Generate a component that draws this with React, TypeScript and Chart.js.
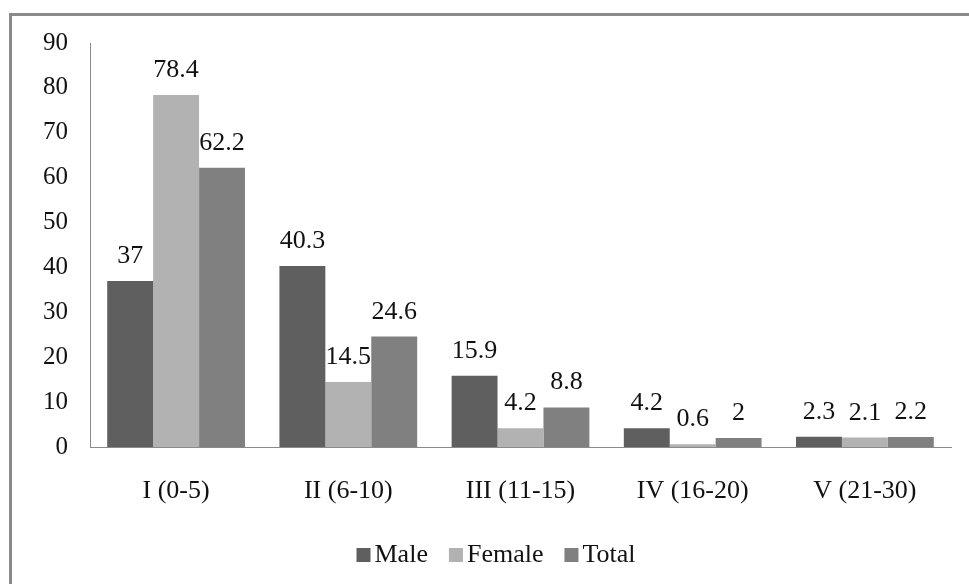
import React, { useEffect, useRef } from "react";
import { Chart, registerables } from "chart.js";

Chart.register(...registerables);

const categories = ["I (0-5)", "II (6-10)", "III (11-15)", "IV (16-20)", "V (21-30)"];
const seriesNames = ["Male", "Female", "Total"];
const maleValues = [37, 40.3, 15.9, 4.2, 2.3];
const femaleValues = [78.4, 14.5, 4.2, 0.6, 2.1];
const totalValues = [62.2, 24.6, 8.8, 2, 2.2];
const seriesColors = ["#5f5f5f", "#b2b2b2", "#808080"];
const yMin = 0;
const yMax = 90;
const yStep = 10;

const FONT = "'Liberation Serif', 'Times New Roman', serif";

const dataLabelPlugin = {
  id: "dataLabels",
  afterDatasetsDraw(chart: any) {
    const ctx = chart.ctx;
    ctx.save();
    ctx.font = `26px ${FONT}`;
    ctx.fillStyle = "#111";
    ctx.textAlign = "center";
    ctx.textBaseline = "alphabetic";
    chart.data.datasets.forEach((ds: any, di: number) => {
      const meta = chart.getDatasetMeta(di);
      meta.data.forEach((el: any, i: number) => {
        ctx.fillText(String(ds.data[i]), el.x, el.y - 18);
      });
    });
    ctx.restore();
  },
};

const customLegendPlugin = {
  id: "customLegend",
  afterDraw(chart: any) {
    const ctx = chart.ctx;
    ctx.save();
    ctx.font = `26px ${FONT}`;
    ctx.textBaseline = "alphabetic";
    ctx.textAlign = "left";
    const box = 14;
    const gapBoxText = 4;
    const gapItems = 21;
    const items = chart.data.datasets.map((ds: any) => ({
      text: ds.label,
      color: ds.backgroundColor,
      w: ctx.measureText(ds.label).width,
    }));
    const total =
      items.reduce((s: number, it: any) => s + box + gapBoxText + it.w, 0) +
      gapItems * (items.length - 1);
    const center = 496;
    let x = center - total / 2;
    const baseline = 562;
    items.forEach((it: any) => {
      ctx.fillStyle = it.color;
      ctx.fillRect(x, baseline - box, box, box);
      x += box + gapBoxText;
      ctx.fillStyle = "#111";
      ctx.fillText(it.text, x, baseline);
      x += it.w + gapItems;
    });
    ctx.restore();
  },
};

export default function App() {
  const canvasRef = useRef<HTMLCanvasElement | null>(null);

  useEffect(() => {
    if (!canvasRef.current) return;
    const chart = new Chart(canvasRef.current, {
      type: "bar",
      data: {
        labels: categories,
        datasets: [
          { label: seriesNames[0], data: maleValues, backgroundColor: seriesColors[0] },
          { label: seriesNames[1], data: femaleValues, backgroundColor: seriesColors[1] },
          { label: seriesNames[2], data: totalValues, backgroundColor: seriesColors[2] },
        ],
      },
      options: {
        animation: false,
        responsive: false,
        maintainAspectRatio: false,
        layout: { padding: { left: 0, right: 18, top: 43, bottom: 54 } },
        datasets: {
          bar: { categoryPercentage: 0.8, barPercentage: 1.0, borderWidth: 0 },
        },
        plugins: {
          legend: { display: false },
          tooltip: { enabled: false },
        },
        scales: {
          x: {
            grid: { display: false, drawTicks: false },
            border: { display: true, color: "#8a8a8a", width: 1 },
            ticks: {
              color: "#111",
              font: { family: FONT, size: 26 },
              padding: 29,
              maxRotation: 0,
              autoSkip: false,
            },
            afterFit: (scale: any) => {
              scale.height = 83;
            },
          },
          y: {
            min: yMin,
            max: yMax,
            grid: { display: false, drawTicks: false },
            border: { display: true, color: "#8a8a8a", width: 1 },
            ticks: {
              stepSize: yStep,
              color: "#111",
              font: { family: FONT, size: 25 },
              padding: 22,
            },
            afterFit: (scale: any) => {
              scale.width = 90;
            },
          },
        },
      },
      plugins: [dataLabelPlugin, customLegendPlugin],
    });
    return () => chart.destroy();
  }, []);

  return (
    <div
      style={{
        position: "fixed",
        left: 0,
        top: 0,
        width: 969,
        height: 584,
        overflow: "hidden",
        background: "#fff",
      }}
    >
      <div
        style={{
          position: "absolute",
          left: 9,
          top: 13,
          width: 1000,
          height: 1000,
          border: "3px solid #8a8a8a",
          boxSizing: "border-box",
        }}
      />
      <canvas
        ref={canvasRef}
        width={969}
        height={584}
        style={{ position: "absolute", left: 0, top: 0, width: 969, height: 584, display: "block" }}
      />
    </div>
  );
}
